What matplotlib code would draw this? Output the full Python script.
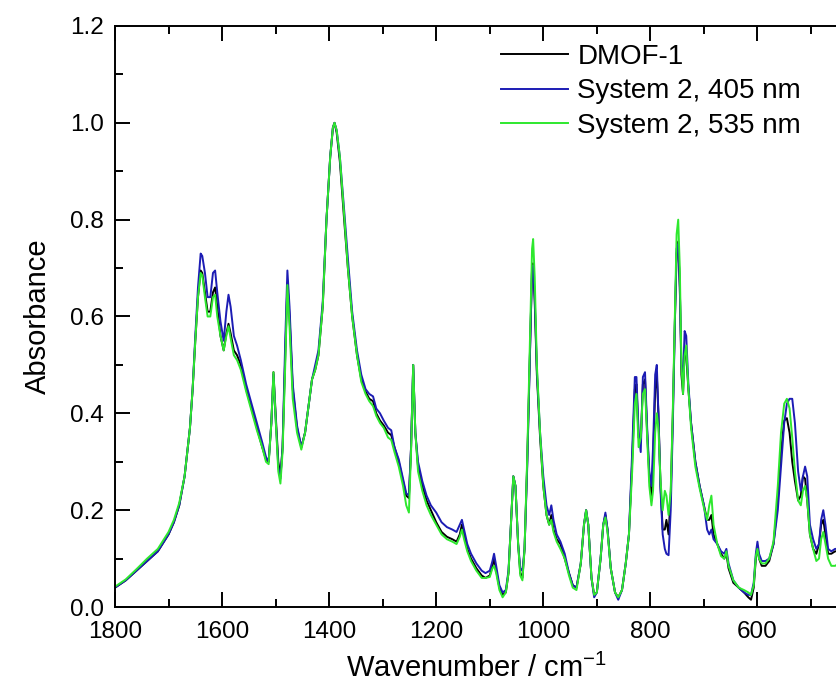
import matplotlib
matplotlib.use("Agg")
import matplotlib.pyplot as plt
from matplotlib.ticker import MultipleLocator

plt.rcParams['font.family'] = ['Liberation Sans', 'DejaVu Sans']
plt.rcParams['mathtext.fontset'] = 'custom'
plt.rcParams['mathtext.rm'] = 'Liberation Sans'
plt.rcParams['mathtext.it'] = 'Liberation Sans:italic'

# (wavenumber, DMOF-1, System 2 405 nm, System 2 535 nm)
rows = [
    (1800, .040, .040, .042), (1780, .055, .055, .057), (1760, .075, .075, .078),
    (1740, .095, .095, .100), (1720, .115, .115, .120), (1700, .150, .150, .155),
    (1690, .175, .175, .180), (1680, .210, .210, .215), (1670, .270, .270, .270),
    (1660, .370, .370, .370), (1655, .450, .450, .450), (1650, .550, .560, .550),
    (1645, .640, .660, .640), (1640, .695, .730, .690), (1637, .690, .725, .685),
    (1632, .650, .690, .640), (1627, .610, .640, .600), (1622, .610, .640, .600),
    (1617, .650, .690, .640), (1613, .660, .695, .645), (1609, .620, .650, .600),
    (1603, .560, .590, .560), (1597, .530, .550, .530), (1592, .565, .610, .560),
    (1588, .585, .645, .580), (1584, .565, .620, .555), (1578, .530, .560, .520),
    (1572, .520, .540, .510), (1565, .500, .510, .490), (1555, .450, .460, .445),
    (1545, .410, .420, .405), (1535, .370, .380, .365), (1525, .330, .340, .330),
    (1518, .305, .310, .300), (1513, .300, .300, .295), (1508, .380, .380, .380),
    (1504, .485, .480, .485), (1500, .400, .390, .390), (1495, .300, .290, .280),
    (1491, .270, .265, .255), (1487, .330, .330, .320), (1482, .520, .550, .500),
    (1478, .670, .695, .665), (1474, .600, .620, .580), (1468, .450, .460, .430),
    (1460, .370, .375, .360), (1452, .330, .330, .325), (1445, .360, .360, .360),
    (1438, .420, .420, .420), (1432, .470, .470, .470), (1426, .490, .500, .490),
    (1420, .520, .530, .520), (1412, .620, .630, .620), (1405, .800, .800, .800),
    (1398, .930, .930, .930), (1393, .990, .990, .990), (1390, 1.000, 1.000, 1.000),
    (1386, .980, .985, .985), (1380, .920, .930, .930), (1372, .800, .820, .810),
    (1365, .700, .720, .700), (1357, .600, .610, .600), (1348, .520, .530, .520),
    (1340, .470, .480, .465), (1332, .445, .450, .440), (1325, .430, .440, .425),
    (1318, .425, .435, .415), (1312, .400, .410, .395), (1305, .385, .400, .380),
    (1298, .375, .385, .370), (1290, .360, .370, .350), (1284, .355, .365, .345),
    (1278, .330, .330, .320), (1270, .300, .305, .290), (1262, .260, .265, .250),
    (1256, .230, .235, .210), (1251, .225, .230, .195), (1247, .330, .330, .320),
    (1243, .500, .500, .500), (1239, .360, .360, .360), (1234, .290, .300, .280),
    (1226, .250, .260, .240), (1218, .220, .230, .210), (1210, .200, .210, .190),
    (1200, .175, .195, .170), (1190, .155, .175, .150), (1180, .145, .165, .140),
    (1170, .140, .160, .135), (1162, .135, .155, .130), (1156, .150, .170, .145),
    (1152, .170, .180, .160), (1148, .150, .160, .140), (1142, .120, .130, .115),
    (1135, .100, .110, .095), (1125, .080, .090, .075), (1115, .065, .075, .060),
    (1108, .060, .070, .060), (1100, .065, .075, .062), (1095, .085, .095, .080),
    (1092, .100, .110, .085), (1088, .075, .085, .070), (1082, .040, .045, .035),
    (1076, .025, .030, .020), (1070, .030, .035, .030), (1065, .070, .075, .070),
    (1060, .180, .180, .180), (1056, .270, .270, .270), (1052, .250, .250, .250),
    (1047, .130, .130, .130), (1043, .070, .080, .065), (1039, .060, .075, .055),
    (1035, .120, .120, .120), (1030, .300, .290, .310), (1025, .520, .520, .550),
    (1021, .700, .700, .740), (1019, .710, .705, .760), (1016, .630, .640, .680),
    (1012, .480, .490, .500), (1006, .350, .360, .360), (1000, .250, .270, .250),
    (994, .190, .210, .190), (989, .170, .190, .170), (985, .190, .210, .180),
    (981, .160, .180, .155), (975, .140, .150, .135), (968, .130, .135, .120),
    (960, .100, .110, .100), (952, .070, .070, .065), (945, .045, .045, .040),
    (938, .040, .040, .035), (930, .090, .090, .090), (924, .170, .170, .170),
    (920, .200, .200, .200), (916, .170, .170, .170), (910, .060, .060, .060),
    (905, .025, .020, .025), (900, .030, .030, .030), (893, .100, .100, .100),
    (888, .170, .170, .170), (884, .190, .195, .185), (880, .160, .160, .155),
    (874, .080, .080, .080), (866, .030, .030, .030), (860, .020, .015, .020),
    (853, .035, .035, .035), (846, .090, .090, .090), (840, .150, .150, .150),
    (834, .300, .320, .280), (829, .450, .475, .420), (826, .460, .475, .440),
    (822, .350, .360, .330), (818, .340, .320, .350), (814, .460, .475, .440),
    (810, .470, .485, .450), (806, .360, .370, .350), (802, .270, .280, .250),
    (798, .220, .250, .210), (795, .300, .330, .240), (791, .450, .480, .360),
    (788, .480, .500, .400), (785, .400, .400, .370), (781, .250, .240, .260),
    (777, .160, .150, .200), (773, .160, .120, .240), (770, .180, .110, .230),
    (766, .150, .107, .190), (762, .230, .200, .240), (758, .400, .380, .410),
    (754, .600, .600, .620), (751, .730, .740, .770), (748, .755, .750, .800),
    (745, .660, .660, .700), (742, .480, .500, .500), (739, .440, .470, .440),
    (736, .530, .570, .520), (733, .520, .560, .540), (729, .450, .460, .450),
    (724, .380, .380, .370), (716, .300, .300, .290), (708, .250, .250, .245),
    (700, .210, .210, .205), (694, .180, .160, .180), (690, .180, .150, .210),
    (686, .190, .160, .230), (682, .150, .140, .170), (675, .130, .130, .130),
    (668, .110, .115, .105), (662, .100, .110, .100), (658, .110, .120, .115),
    (654, .080, .090, .085), (645, .050, .055, .055), (635, .040, .040, .040),
    (625, .030, .030, .035), (617, .020, .025, .030), (612, .015, .025, .025),
    (607, .040, .050, .045), (603, .100, .110, .105), (600, .125, .135, .120),
    (597, .100, .110, .100), (592, .085, .095, .090), (585, .085, .095, .090),
    (578, .095, .100, .100), (570, .130, .130, .135), (562, .220, .200, .250),
    (556, .320, .290, .360), (550, .385, .380, .420), (545, .390, .420, .430),
    (540, .360, .430, .410), (535, .300, .430, .350), (530, .260, .380, .280),
    (524, .220, .280, .220), (519, .230, .240, .210), (515, .270, .270, .240),
    (511, .265, .290, .250), (507, .220, .270, .220), (502, .150, .170, .150),
    (496, .120, .140, .120), (490, .110, .120, .095), (485, .130, .130, .100),
    (481, .170, .180, .140), (477, .180, .200, .155), (473, .150, .170, .130),
    (468, .110, .120, .100), (462, .110, .115, .085), (455, .115, .120, .085),
    (448, .115, .120, .090),
]

wavenumber = [r[0] for r in rows]
dmof1 = [r[1] for r in rows]
sys2_405 = [r[2] for r in rows]
sys2_535 = [r[3] for r in rows]

labels = ["DMOF-1", "System 2, 405 nm", "System 2, 535 nm"]
colors = ["#000000", "#1c1cb4", "#2ee82e"]

W, H = 837, 695
fig = plt.figure(figsize=(W / 100, H / 100), dpi=100)
left, right, top, bottom = 115, 837, 26, 607
ax = fig.add_axes([left / W, (H - bottom) / H, (right - left) / W, (bottom - top) / H])

for y, lab, c in zip([dmof1, sys2_405, sys2_535], labels, colors):
    ax.plot(wavenumber, y, color=c, lw=1.4, label=lab)

x_right = 500 - (right - 811) / 0.535
ax.set_xlim(1800, x_right)
ax.set_ylim(0, 1.2)
ax.xaxis.set_major_locator(MultipleLocator(200))
ax.xaxis.set_minor_locator(MultipleLocator(100))
ax.yaxis.set_major_locator(MultipleLocator(0.2))
ax.yaxis.set_minor_locator(MultipleLocator(0.1))
ax.yaxis.set_major_formatter(matplotlib.ticker.FormatStrFormatter('%.1f'))
ax.tick_params(which='both', direction='in', top=True, right=False, width=1.4)
ax.tick_params(which='major', length=11, labelsize=17.5)
ax.tick_params(axis='x', which='major', pad=10)
ax.tick_params(axis='y', which='major', pad=8)
ax.tick_params(which='minor', length=6)
ax.spines['right'].set_visible(False)
for s in ['left', 'top', 'bottom']:
    ax.spines[s].set_linewidth(1.4)

ax.set_xlabel("Wavenumber / cm$^{-1}$", fontsize=21, labelpad=8)
ax.set_ylabel("Absorbance", fontsize=21, labelpad=13)

leg = ax.legend(loc='upper left', bbox_to_anchor=(501 / W, 1 - 44 / H),
                bbox_transform=fig.transFigure, frameon=False,
                fontsize=20, handlelength=2.4, handletextpad=0.35,
                labelspacing=0.3, borderpad=0, borderaxespad=0)

fig.savefig("out.png", dpi=100)
